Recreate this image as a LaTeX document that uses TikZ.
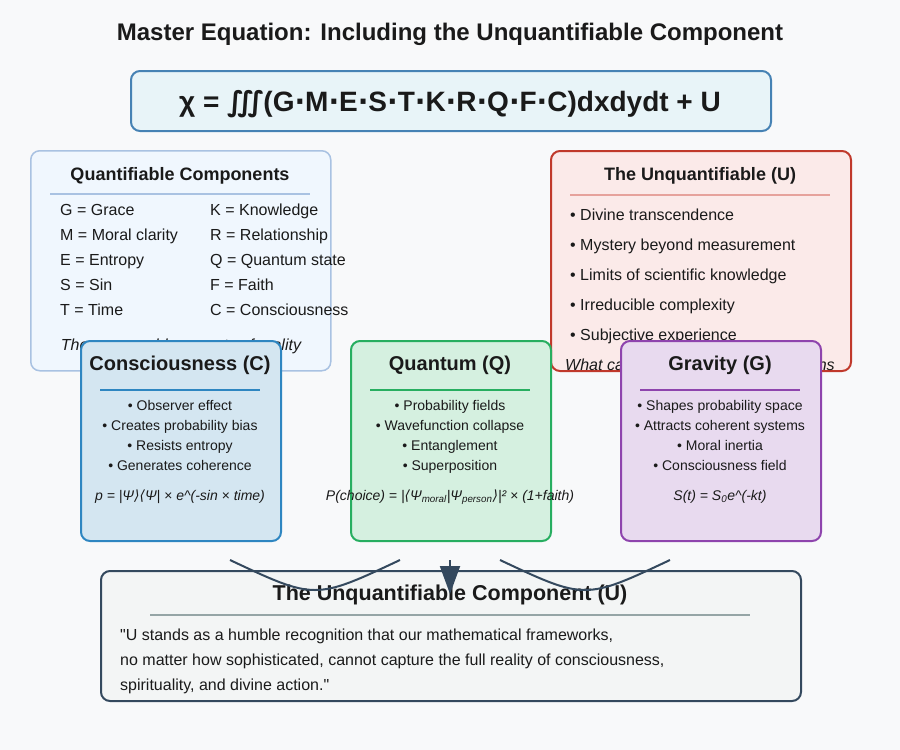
\documentclass[tikz,border=0pt]{standalone}
\usepackage{fontspec}
\setmainfont{Liberation Sans}
\newfontfamily\dv{DejaVu Sans}
\newfontfamily\lsq{Liberation Sans}
\usetikzlibrary{arrows.meta}
\definecolor{bgc}{HTML}{F8F9FA}
\definecolor{eqfill}{HTML}{E8F4F8}
\definecolor{eqdraw}{HTML}{4682B4}
\definecolor{qfill}{HTML}{F0F7FE}
\definecolor{qdraw}{HTML}{A9C2E2}
\definecolor{ufill}{HTML}{FBEAE9}
\definecolor{udraw}{HTML}{C0392B}
\definecolor{uline}{HTML}{E6A29C}
\definecolor{cfill}{HTML}{D4E6F1}
\definecolor{cdraw}{HTML}{2E86C1}
\definecolor{qmfill}{HTML}{D5F0E0}
\definecolor{qmdraw}{HTML}{27AE60}
\definecolor{gfill}{HTML}{E8DAEF}
\definecolor{gdraw}{HTML}{8E44AD}
\definecolor{bfill}{HTML}{F3F5F5}
\definecolor{bdraw}{HTML}{34495E}
\definecolor{bline}{HTML}{95A5A6}
\definecolor{txt}{HTML}{1A1A1A}
\newcommand\fsz[1]{\fontsize{#1}{#1}\selectfont}
\newcommand\cdt{{\dv\bfseries ⋅}}
\newcommand\sq{{\lsq "}}
\tikzset{
  lt/.style={inner sep=0pt, anchor=base west, text=txt},
  ct/.style={inner sep=0pt, anchor=base, text=txt},
  panel/.style={rounded corners=9pt, line width=2pt, anchor=north west, inner sep=0pt},
  rule/.style={line width=2pt},
  arcline/.style={draw=bdraw, line width=2pt},
}
\begin{document}
\begin{tikzpicture}[x=1pt,y=-1pt]
\useasboundingbox (0,0) rectangle (900,750);
\fill[bgc] (0,0) rectangle (900,750);

% title
\node[ct, font=\bfseries\fsz{24}] (title) at (450,40) {Master Equation: Including the Unquantifiable Component};

% equation
\node[panel, draw=eqdraw, fill=eqfill, minimum width=640pt, minimum height=60pt] (eqbox) at (130,70) {};
\node[ct, font=\bfseries\fsz{28}] (eq) at (450,111) {χ = {\dv\bfseries ∭}(G\cdt M\cdt E\cdt S\cdt T\cdt K\cdt R\cdt Q\cdt F\cdt C)dxdydt + U};

% quantifiable components
\node[panel, draw=qdraw, fill=qfill, line width=1.5pt, minimum width=300pt, minimum height=220pt] (qc) at (30,150) {};
\node[ct, font=\bfseries\fsz{18}] (qctitle) at (180,180) {Quantifiable Components};
\coordinate (qcl1) at (50,194); \coordinate (qcl2) at (310,194);
\draw[rule, qdraw] (qcl1) -- (qcl2);
\node[lt, font=\fsz{16}] (qg) at (60,215) {G = Grace};
\node[lt, font=\fsz{16}] (qm) at (60,240) {M = Moral clarity};
\node[lt, font=\fsz{16}] (qe) at (60,265) {E = Entropy};
\node[lt, font=\fsz{16}] (qs) at (60,290) {S = Sin};
\node[lt, font=\fsz{16}] (qt) at (60,315) {T = Time};
\node[lt, font=\fsz{16}] (qk) at (210,215) {K = Knowledge};
\node[lt, font=\fsz{16}] (qr) at (210,240) {R = Relationship};
\node[lt, font=\fsz{16}] (qq) at (210,265) {Q = Quantum state};
\node[lt, font=\fsz{16}] (qf) at (210,290) {F = Faith};
\node[lt, font=\fsz{16}] (qcc) at (210,315) {C = Consciousness};
\node[ct, font=\itshape\fsz{16}] (qnote) at (181,350) {The measurable aspects of reality};

% unquantifiable
\node[panel, draw=udraw, fill=ufill, minimum width=300pt, minimum height=220pt] (uq) at (550,150) {};
\node[ct, font=\bfseries\fsz{18}] (uqtitle) at (700,180) {The Unquantifiable (U)};
\coordinate (uql1) at (570,195); \coordinate (uql2) at (830,195);
\draw[rule, uline] (uql1) -- (uql2);
\node[lt, font=\fsz{16}] (u1) at (570,220) {• Divine transcendence};
\node[lt, font=\fsz{16}] (u2) at (570,250) {• Mystery beyond measurement};
\node[lt, font=\fsz{16}] (u3) at (570,280) {• Limits of scientific knowledge};
\node[lt, font=\fsz{16}] (u4) at (570,310) {• Irreducible complexity};
\node[lt, font=\fsz{16}] (u5) at (570,340) {• Subjective experience};
\node[ct, font=\itshape\fsz{16}] (unote) at (700,370) {What cannot be captured in equations};

% consciousness
\node[panel, draw=cdraw, fill=cfill, minimum width=200pt, minimum height=200pt] (cons) at (80,340) {};
\node[ct, font=\bfseries\fsz{20}] (constitle) at (180,370) {Consciousness (C)};
\coordinate (cl1) at (100,390); \coordinate (cl2) at (260,390);
\draw[rule, cdraw] (cl1) -- (cl2);
\node[ct, font=\fsz{14}] (c1) at (180,410) {• Observer effect};
\node[ct, font=\fsz{14}] (c2) at (180,430) {• Creates probability bias};
\node[ct, font=\fsz{14}] (c3) at (180,450) {• Resists entropy};
\node[ct, font=\fsz{14}] (c4) at (180,470) {• Generates coherence};
\node[ct, font=\itshape\fsz{14}] (cf) at (180,500) {p = |Ψ{\dv\itshape ⟩⟨}Ψ| × e\^{}(-sin × time)};

% quantum
\node[panel, draw=qmdraw, fill=qmfill, minimum width=200pt, minimum height=200pt] (quant) at (350,340) {};
\node[ct, font=\bfseries\fsz{20}] (quanttitle) at (450,370) {Quantum (Q)};
\coordinate (ql1) at (370,390); \coordinate (ql2) at (530,390);
\draw[rule, qmdraw] (ql1) -- (ql2);
\node[ct, font=\fsz{14}] (q1) at (450,410) {• Probability fields};
\node[ct, font=\fsz{14}] (q2) at (450,430) {• Wavefunction collapse};
\node[ct, font=\fsz{14}] (q3) at (450,450) {• Entanglement};
\node[ct, font=\fsz{14}] (q4) at (450,470) {• Superposition};
\node[ct, font=\itshape\fsz{14}] (qfm) at (450,500) {P(choice) = |{\dv\itshape ⟨}Ψ\textsubscript{moral}|Ψ\textsubscript{person}{\dv\itshape ⟩}|² × (1+faith)};

% gravity
\node[panel, draw=gdraw, fill=gfill, minimum width=200pt, minimum height=200pt] (grav) at (620,340) {};
\node[ct, font=\bfseries\fsz{20}] (gravtitle) at (720,370) {Gravity (G)};
\coordinate (gl1) at (640,390); \coordinate (gl2) at (800,390);
\draw[rule, gdraw] (gl1) -- (gl2);
\node[ct, font=\fsz{14}] (g1) at (720,410) {• Shapes probability space};
\node[ct, font=\fsz{14}] (g2) at (720,430) {• Attracts coherent systems};
\node[ct, font=\fsz{14}] (g3) at (720,450) {• Moral inertia};
\node[ct, font=\fsz{14}] (g4) at (720,470) {• Consciousness field};
\node[ct, font=\itshape\fsz{14}] (gf) at (720,500) {S(t) = S\textsubscript{0}e\^{}(-kt)};

% bottom box
\node[panel, draw=bdraw, fill=bfill, minimum width=700pt, minimum height=130pt] (bot) at (100,570) {};
\node[ct, font=\bfseries\fsz{21.5}] (bottitle) at (450,600) {The Unquantifiable Component (U)};
\coordinate (bl1) at (150,615); \coordinate (bl2) at (750,615);
\draw[rule, bline] (bl1) -- (bl2);
\node[lt, font=\fsz{16}] (b1) at (120,640) {\sq U stands as a humble recognition that our mathematical frameworks,};
\node[lt, font=\fsz{16}] (b2) at (120,665) {no matter how sophisticated, cannot capture the full reality of consciousness,};
\node[lt, font=\fsz{16}] (b3) at (120,690) {spirituality, and divine action.\sq};

% connectors
\coordinate (a1s) at (230,560); \coordinate (a1e) at (400,560);
\coordinate (a2s) at (500,560); \coordinate (a2e) at (670,560);
\draw[arcline] (a1s) .. controls (315,600) .. (a1e);
\draw[arcline] (a2s) .. controls (585,600) .. (a2e);
\coordinate (ar1) at (450,560); \coordinate (ar2) at (450,594);
\draw[arcline, -{Triangle[width=20pt,length=28pt]}, fill=bdraw] (ar1) -- (ar2);
\end{tikzpicture}
\end{document}
